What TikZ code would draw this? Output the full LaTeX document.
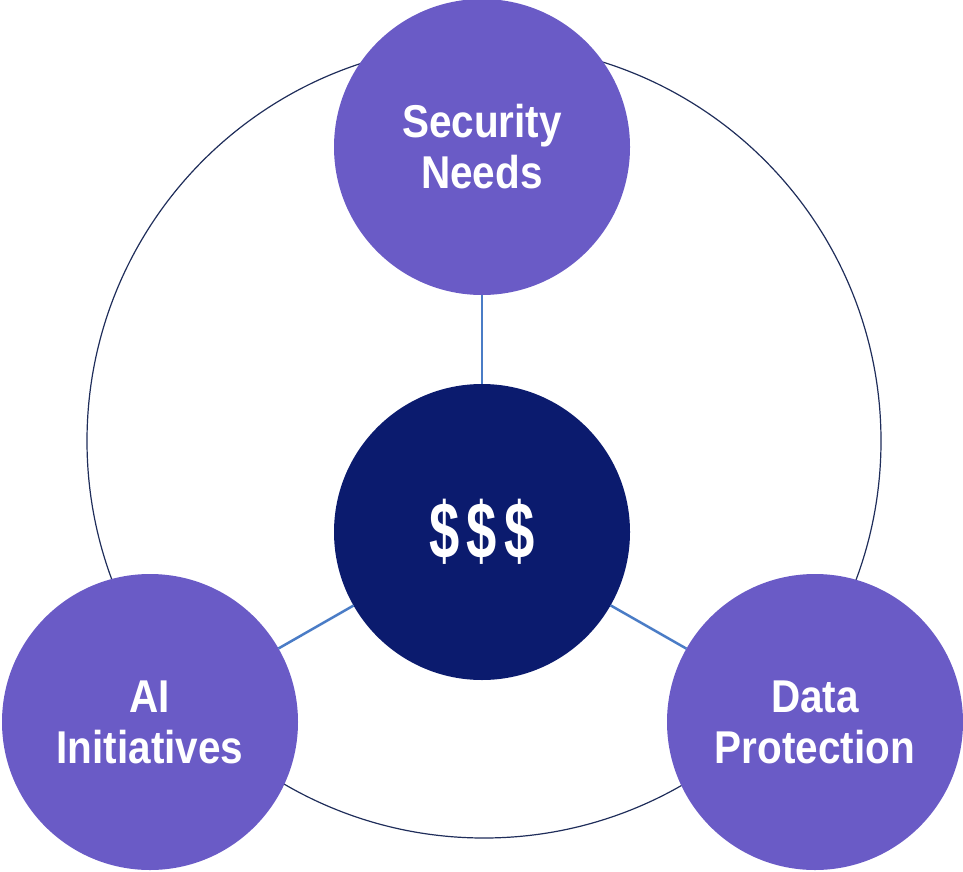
\documentclass[tikz,border=0pt]{standalone}
\usepackage{fontspec}
\newfontfamily\labelfont{Liberation Sans}[FakeStretch=0.88]
\newfontfamily\moneyfont{Liberation Sans}[FakeStretch=0.68]
\definecolor{topicpurple}{RGB}{106,91,198}
\definecolor{moneynavy}{RGB}{11,27,110}
\definecolor{linkblue}{RGB}{74,124,198}
\definecolor{ringnavy}{RGB}{31,45,90}
\begin{document}
\begin{tikzpicture}
[x=1pt,y=-1pt,%
  every node/.style={shape=circle,inner sep=0pt,outer sep=0pt,align=center,text=white,
    font=\labelfont\bfseries\fontsize{46}{51}\selectfont},
  topic/.style={fill=topicpurple,minimum size=296pt},
  money/.style={fill=moneynavy,minimum size=296pt,font=\moneyfont\bfseries\fontsize{80}{80}\selectfont},
  link/.style={draw=linkblue,line width=2.5pt}]
\useasboundingbox (0,0) rectangle (963,872);
\draw[ringnavy,line width=1.2pt] (484,441) circle[radius=397];
\node[topic] (sec) at (482,147) {Security\\Needs};
\node[money] (mid) at (482,532) {\$\kern7pt\$\kern7pt\$};
\node[topic] (ai) at (150,722) {AI\\Initiatives};
\node[topic] (data) at (815,722) {Data\\Protection};
\draw[link] (mid) -- (sec);
\draw[link] (mid) -- (ai);
\draw[link] (mid) -- (data);
\end{tikzpicture}
\end{document}
